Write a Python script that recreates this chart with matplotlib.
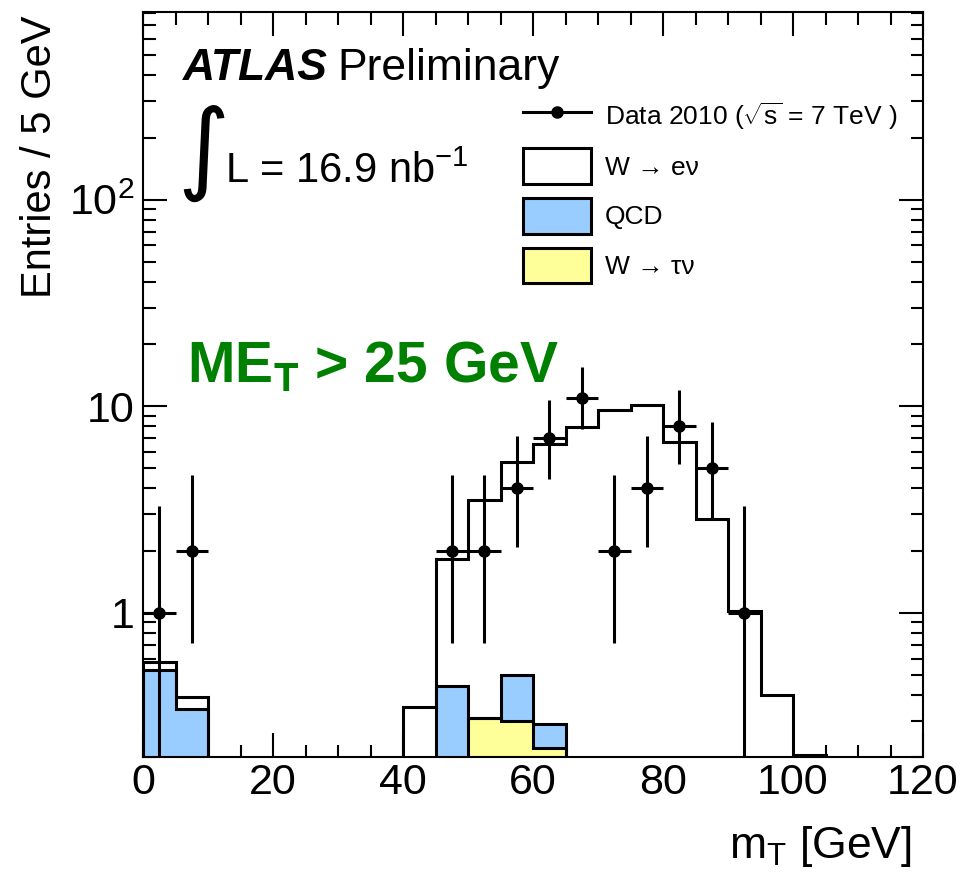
import numpy as np
import matplotlib
matplotlib.use("Agg")
from matplotlib import pyplot as plt
from matplotlib.lines import Line2D
from matplotlib.patches import Patch
from matplotlib.ticker import MultipleLocator, FixedLocator, FixedFormatter, LogLocator, NullFormatter

plt.rcParams['font.family'] = ['Liberation Sans', 'DejaVu Sans']
plt.rcParams['mathtext.fontset'] = 'custom'
plt.rcParams['mathtext.rm'] = 'Liberation Sans'
plt.rcParams['mathtext.it'] = 'Liberation Sans:italic'
plt.rcParams['mathtext.bf'] = 'Liberation Sans:bold'

# 5 GeV bins from 0 to 120
edges = np.arange(0, 125, 5)

# MC stack components (entries per bin)
wtau = [0, 0, 0, 0, 0, 0, 0, 0, 0, 0, 0.31, 0.30, 0.22, 0, 0, 0, 0, 0, 0, 0, 0, 0, 0, 0]
qcd = [0.53, 0.34, 0, 0, 0, 0, 0, 0, 0, 0.44, 0, 0.20, 0.07, 0, 0, 0, 0, 0, 0, 0, 0, 0, 0, 0]
wenu = [0.045, 0.05, 0, 0, 0, 0, 0, 0, 0.35, 1.38, 3.2, 4.84, 6.27, 7.95, 9.56, 10.1,
        6.68, 2.84, 1.02, 0.40, 0.205, 0, 0, 0]

# data 2010
data_x = [2.5, 7.5, 47.5, 52.5, 57.5, 62.5, 67.5, 72.5, 77.5, 82.5, 87.5, 92.5]
data_y = [1, 2, 2, 2, 4, 7, 11, 2, 4, 8, 5, 1]
data_lo = [0.17, 0.71, 0.71, 0.71, 2.09, 4.42, 7.74, 0.71, 2.09, 5.23, 2.84, 0.17]
data_hi = [3.30, 4.64, 4.64, 4.64, 7.16, 10.77, 15.41, 4.64, 7.16, 11.95, 8.38, 3.30]

blue = '#99ccff'
yellow = '#ffff99'
lw = 2.2

fig = plt.figure(figsize=(9.65, 8.81), dpi=100)
ax = fig.add_axes([0.1482, 0.1407, 0.8083, 0.8456])

c_tau = np.array(wtau)
c_qcd = c_tau + np.array(qcd)
c_all = c_qcd + np.array(wenu)

base = 1e-3
for vals, col in [(c_all, 'white'), (c_qcd, blue), (c_tau, yellow)]:
    v = np.where(vals > 0, vals, base)
    ax.stairs(v, edges, baseline=base, fill=True, color=col, zorder=2)
    ax.stairs(v, edges, baseline=base, color='black', lw=lw, zorder=3)

dy = [np.array(data_y) - np.array(data_lo), np.array(data_hi) - np.array(data_y)]
ax.errorbar(data_x, data_y, xerr=2.5, yerr=dy, fmt='o', color='black', ms=8,
            elinewidth=lw, capsize=0, zorder=5)

ax.set_yscale('log')
ax.set_xlim(0, 120)
ax.set_ylim(0.2, 810)

ax.xaxis.set_major_locator(MultipleLocator(20))
ax.xaxis.set_minor_locator(MultipleLocator(5))
ax.yaxis.set_major_locator(FixedLocator([1, 10, 100]))
ax.yaxis.set_major_formatter(FixedFormatter(['1', '10', r'$\mathregular{10^{2}}$']))
ax.yaxis.set_minor_locator(LogLocator(base=10, subs=np.arange(2, 10)))
ax.yaxis.set_minor_formatter(NullFormatter())

ax.tick_params(which='both', direction='in', top=True, right=True, width=1.5, labelsize=31)
ax.tick_params(which='major', length=17)
ax.tick_params(which='minor', length=9)
ax.tick_params(axis='x', pad=4)
ax.tick_params(axis='y', pad=6)
for s in ax.spines.values():
    s.set_linewidth(1.5)

ax.set_ylabel('Entries / 5 GeV', fontsize=30, loc='top')
ax.yaxis.set_label_coords(-0.106, 0.996)
ax.set_xlabel(r'm$_\mathregular{T}$ [GeV]', fontsize=32, loc='right')
ax.xaxis.set_label_coords(0.986, -0.09)

# labels
atl = ax.text(0.051, 0.909, 'ATLAS', transform=ax.transAxes, fontsize=32,
              fontweight='bold', fontstyle='italic', va='baseline')
ax.annotate('Preliminary', xy=(1, 0), xycoords=atl, xytext=(7, 0),
            textcoords='offset points', fontsize=32, va='bottom')
ax.text(0.044, 0.773, '\u222b', transform=ax.transAxes, fontsize=72,
        family='DejaVu Sans', va='baseline')
ax.text(0.105, 0.770, r'L = 16.9 nb$^{\mathregular{-1}}$', transform=ax.transAxes,
        fontsize=30, va='baseline')
ax.text(0.056, 0.503, r'ME$_\mathbf{T}$ > 25 GeV', transform=ax.transAxes, fontsize=41,
        fontweight='bold', color='#008000', va='baseline')

handles = [Line2D([], [], color='black', marker='o', lw=lw, ms=8),
           Patch(facecolor='white', edgecolor='black', lw=lw),
           Patch(facecolor=blue, edgecolor='black', lw=lw),
           Patch(facecolor=yellow, edgecolor='black', lw=lw)]
labels = [r'Data 2010 ($\sqrt{\mathregular{s}}$ = 7 TeV )', 'W \u2192 e\u03bd', 'QCD',
          'W \u2192 \u03c4\u03bd']
ax.legend(handles, labels, loc='upper left', bbox_to_anchor=(0.487, 0.8836),
          frameon=False, fontsize=19, handlelength=2.6, handleheight=1.7,
          labelspacing=0.53, handletextpad=0.5, borderaxespad=0, borderpad=0)

fig.savefig('out.png', dpi=100)
